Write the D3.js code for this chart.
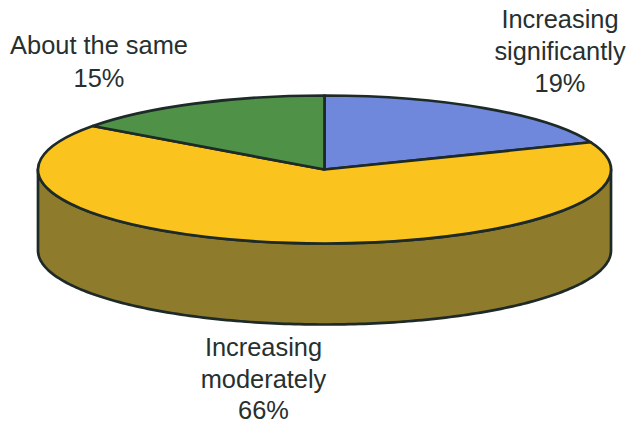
<!DOCTYPE html>
<html>
<head>
<meta charset="utf-8">
<script src="https://cdn.jsdelivr.net/npm/d3@7"></script>
<style>
  html, body { margin: 0; padding: 0; background: #fff; }
  svg { display: block; }
  text { font-family: "Liberation Sans", Arial, sans-serif; font-size: 25.4px; fill: #27302f; text-anchor: middle; }
</style>
</head>
<body>
<svg id="chart" width="628" height="421"></svg>
<script>
// Survey shares, clockwise from twelve o'clock
const categories = ["Increasing significantly", "Increasing moderately", "About the same"];
const shares = [19, 66, 15];
const sliceColors = ["#6f88dc", "#fac31d", "#4f9247"];
const wallColor = "#8f7b2c";
const outline = "#1d2a28";

const labelLines = [
  ["Increasing", "significantly", "19%"],
  ["Increasing", "moderately", "66%"],
  ["About the same", "15%"]
];
const labelAnchors = [[560, 28], [263.5, 356], [99, 54]];
const labelLeading = [32, 31.5, 33];

const width = 628, height = 421;
const cx = 324.5, cy = 169.5, rx = 286.5, ry = 74, depth = 81;
const strokeWidth = 2.7;

const svg = d3.select("#chart");

// Cylinder wall: the lower half of the rim, swept down by the depth
const halfTurn = d3.range(0, 181).map(d => d * Math.PI / 180);
const wall = d3.area()
  .x(a => cx - rx * Math.cos(a))
  .y0(a => cy + ry * Math.sin(a))
  .y1(a => cy + depth + ry * Math.sin(a));

svg.append("path")
  .attr("d", wall(halfTurn))
  .attr("fill", wallColor)
  .attr("stroke", outline)
  .attr("stroke-width", strokeWidth)
  .attr("stroke-linejoin", "round");

// Top face: a flat pie squashed into an ellipse
const pie = d3.pie().sort(null).value(d => d);
const arc = d3.arc().innerRadius(0).outerRadius(rx);

svg.append("g")
  .attr("transform", `translate(${cx},${cy}) scale(1,${ry / rx})`)
  .selectAll("path")
  .data(pie(shares))
  .join("path")
  .attr("d", arc)
  .attr("fill", (d, i) => sliceColors[i])
  .attr("stroke", outline)
  .attr("stroke-width", strokeWidth)
  .attr("stroke-linejoin", "round")
  .attr("vector-effect", "non-scaling-stroke");

// Stacked slice labels
const labels = svg.append("g")
  .selectAll("text")
  .data(labelLines.map((lines, i) => ({ lines, anchor: labelAnchors[i], leading: labelLeading[i] })))
  .join("text")
  .attr("transform", d => `translate(${d.anchor[0]},${d.anchor[1]})`);

labels.selectAll("tspan")
  .data(d => d.lines.map(line => ({ line, leading: d.leading })))
  .join("tspan")
  .attr("x", 0)
  .attr("y", (d, i) => i * d.leading)
  .text(d => d.line);
</script>
</body>
</html>
